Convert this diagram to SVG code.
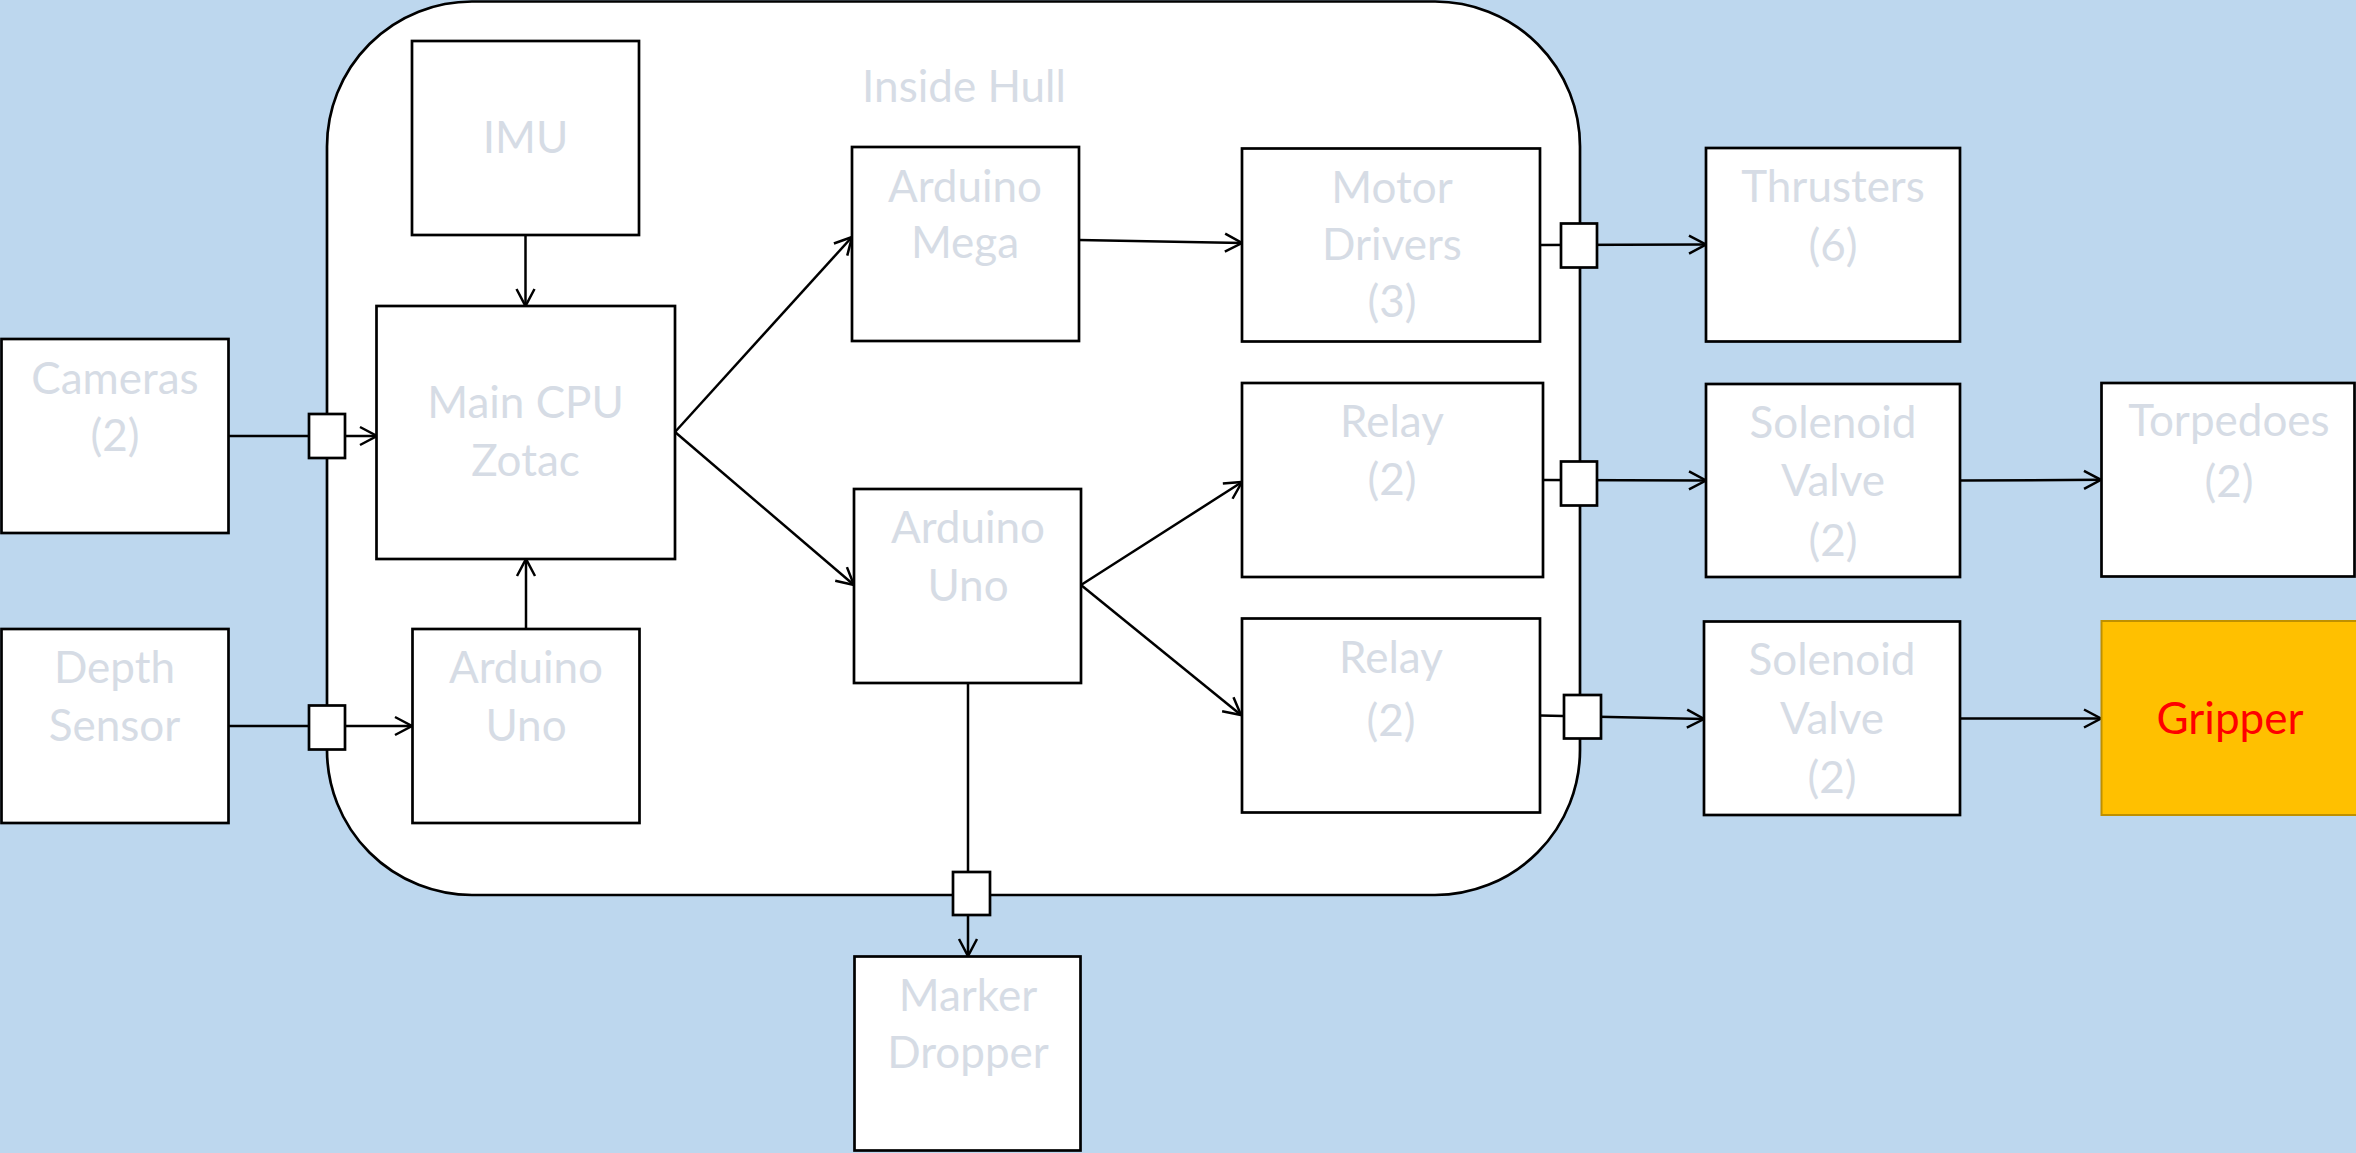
<svg xmlns="http://www.w3.org/2000/svg" width="2356" height="1153" viewBox="0 0 2356 1153">
  <style>
    .box { fill: #ffffff; stroke: #000000; stroke-width: 2.7; }
    .port { fill: #ffffff; stroke: #000000; stroke-width: 2.7; }
    .hull { fill: #ffffff; stroke: #000000; stroke-width: 2.7; }
    .wire { fill: none; stroke: #000000; stroke-width: 2.5; }
    .arrow { fill: none; stroke: #000000; stroke-width: 2.5; marker-end: url(#open-arrow); }
    .label { font-family: Lato, "Open Sans", "Liberation Sans", sans-serif; font-size: 44px; fill: #D6DCE5; text-anchor: middle; }
    .alert { fill: #FF0000; }
  </style>
  <defs>
    <marker id="open-arrow" markerUnits="userSpaceOnUse" viewBox="0 0 20 20" markerWidth="20" markerHeight="20" refX="18" refY="10" orient="auto" overflow="visible">
      <path d="M1,1 L18,10 L1,19" fill="none" stroke="#000000" stroke-width="2.5"/>
    </marker>
  </defs>

  <!-- water background -->
  <rect x="0" y="0" width="2356" height="1153" fill="#BDD7EE"/>

  <!-- pressure hull -->
  <g id="hull">
    <rect class="hull" x="327" y="1.5" width="1253" height="893.5" rx="145" ry="145"/>
    <text class="label" x="964" y="102">Inside Hull</text>
  </g>

  <!-- connectors -->
  <g id="connectors">
    <line class="arrow" x1="228" y1="436" x2="377" y2="436"/>
    <line class="arrow" x1="228" y1="726" x2="412" y2="726"/>
    <line class="arrow" x1="525.5" y1="235" x2="525.5" y2="306"/>
    <line class="arrow" x1="526" y1="629" x2="526" y2="559"/>
    <line class="arrow" x1="675" y1="432" x2="852" y2="237"/>
    <line class="arrow" x1="675" y1="432" x2="854" y2="585"/>
    <line class="arrow" x1="1079" y1="240" x2="1242" y2="243"/>
    <line class="arrow" x1="1081" y1="585" x2="1242" y2="482"/>
    <line class="arrow" x1="1081" y1="585" x2="1241" y2="715"/>
    <line class="arrow" x1="968" y1="683" x2="968" y2="956"/>
    <line class="arrow" x1="1540" y1="245" x2="1706" y2="244.5"/>
    <line class="arrow" x1="1543" y1="480" x2="1706" y2="480.5"/>
    <line class="arrow" x1="1540" y1="715.5" x2="1704" y2="719"/>
    <line class="arrow" x1="1960" y1="480.5" x2="2101" y2="479.8"/>
    <line class="arrow" x1="1960" y1="718.5" x2="2101" y2="718.5"/>
  </g>

  <!-- hull penetrators -->
  <g id="ports">
    <rect class="port" x="309" y="414" width="36" height="44"/>
    <rect class="port" x="309" y="705.5" width="36" height="44"/>
    <rect class="port" x="953" y="872" width="37" height="43"/>
    <rect class="port" x="1561" y="223.5" width="36" height="44"/>
    <rect class="port" x="1561" y="461.5" width="36" height="44"/>
    <rect class="port" x="1564" y="695" width="37" height="43.5"/>
  </g>

  <g id="cameras">
    <rect class="box" x="1.5" y="339" width="227" height="194"/>
    <text class="label" x="115" y="394">Cameras</text>
    <text class="label" x="115" y="451">(2)</text>
  </g>

  <g id="depth-sensor">
    <rect class="box" x="1.5" y="629" width="227" height="194"/>
    <text class="label" x="114.5" y="683">Depth</text>
    <text class="label" x="114.5" y="741">Sensor</text>
  </g>

  <g id="imu">
    <rect class="box" x="412" y="41" width="227" height="194"/>
    <text class="label" x="525.5" y="153">IMU</text>
  </g>

  <g id="main-cpu">
    <rect class="box" x="376.5" y="306" width="298.5" height="253"/>
    <text class="label" x="525.5" y="418">Main CPU</text>
    <text class="label" x="525.5" y="476">Zotac</text>
  </g>

  <g id="arduino-uno-depth">
    <rect class="box" x="412.5" y="629" width="227" height="194"/>
    <text class="label" x="526" y="683">Arduino</text>
    <text class="label" x="526" y="741">Uno</text>
  </g>

  <g id="arduino-mega">
    <rect class="box" x="852" y="147" width="227" height="194"/>
    <text class="label" x="965" y="202">Arduino</text>
    <text class="label" x="965" y="258">Mega</text>
  </g>

  <g id="arduino-uno">
    <rect class="box" x="854" y="489" width="227" height="194"/>
    <text class="label" x="968" y="543">Arduino</text>
    <text class="label" x="968" y="601">Uno</text>
  </g>

  <g id="marker-dropper">
    <rect class="box" x="854.5" y="956.5" width="226" height="194"/>
    <text class="label" x="968" y="1011">Marker</text>
    <text class="label" x="968" y="1068">Dropper</text>
  </g>

  <g id="motor-drivers">
    <rect class="box" x="1242" y="148.5" width="298" height="193"/>
    <text class="label" x="1392" y="203">Motor</text>
    <text class="label" x="1392" y="260">Drivers</text>
    <text class="label" x="1392" y="317">(3)</text>
  </g>

  <g id="relay-torpedo">
    <rect class="box" x="1242" y="383" width="301" height="194"/>
    <text class="label" x="1392" y="437">Relay</text>
    <text class="label" x="1392" y="495">(2)</text>
  </g>

  <g id="relay-gripper">
    <rect class="box" x="1242" y="618.5" width="298" height="194"/>
    <text class="label" x="1391" y="673">Relay</text>
    <text class="label" x="1391" y="736">(2)</text>
  </g>

  <g id="thrusters">
    <rect class="box" x="1706" y="148" width="254" height="193.5"/>
    <text class="label" x="1833" y="202">Thrusters</text>
    <text class="label" x="1833" y="261">(6)</text>
  </g>

  <g id="solenoid-torpedo">
    <rect class="box" x="1706" y="384" width="254" height="193"/>
    <text class="label" x="1833" y="438">Solenoid</text>
    <text class="label" x="1833" y="496">Valve</text>
    <text class="label" x="1833" y="556">(2)</text>
  </g>

  <g id="solenoid-gripper">
    <rect class="box" x="1704" y="621.5" width="256" height="193.5"/>
    <text class="label" x="1832" y="675">Solenoid</text>
    <text class="label" x="1832" y="734">Valve</text>
    <text class="label" x="1832" y="793">(2)</text>
  </g>

  <g id="torpedoes">
    <rect class="box" x="2101.5" y="383" width="253" height="193.5"/>
    <text class="label" x="2229" y="436">Torpedoes</text>
    <text class="label" x="2229" y="497">(2)</text>
  </g>

  <g id="gripper">
    <rect x="2101.5" y="621" width="256" height="194" fill="#FFC000" stroke="#BF9000" stroke-width="2"/>
    <text class="label alert" x="2230" y="734">Gripper</text>
  </g>
</svg>
